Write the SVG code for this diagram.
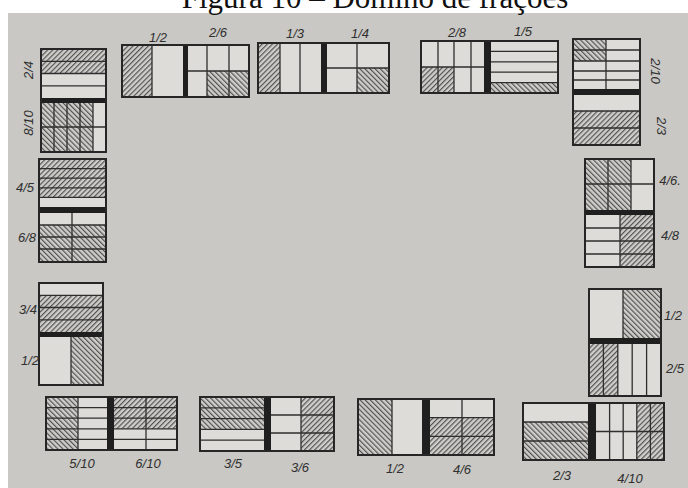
<svg xmlns="http://www.w3.org/2000/svg" width="688" height="488" viewBox="0 0 688 488">
<style>
.o{fill:none;stroke:#262626;stroke-width:2}
.l{stroke:#2e2e2e;stroke-width:1.3;fill:none}
.bar{fill:#1f1f1f}
.bk{fill:#dedcd8}
.hf{fill:url(#hf)}
.hb{fill:url(#hb)}
.t{font-family:"Liberation Sans",Arial,sans-serif;font-size:13px;font-style:italic;fill:#2f2f2f;text-anchor:middle;dominant-baseline:central}
.title{font-family:"Liberation Serif","Times New Roman",serif;font-size:31px;fill:#111;text-anchor:middle}
</style>
<defs>
<pattern id="hf" width="3.6" height="3.6" patternUnits="userSpaceOnUse" patternTransform="rotate(45)">
<rect width="3.6" height="3.6" fill="#cfcdc9"/><line x1="0.6" y1="0" x2="0.6" y2="3.6" stroke="#4a4a4a" stroke-width="1.1"/>
</pattern>
<pattern id="hb" width="3.6" height="3.6" patternUnits="userSpaceOnUse" patternTransform="rotate(-45)">
<rect width="3.6" height="3.6" fill="#cfcdc9"/><line x1="0.6" y1="0" x2="0.6" y2="3.6" stroke="#4a4a4a" stroke-width="1.1"/>
</pattern>
</defs>
<rect width="688" height="488" fill="#ffffff"/>
<rect x="8" y="13" width="680" height="475" fill="#c9c8c4"/>
<text class="title" x="375" y="8">Figura 10 – Dominó de frações</text>

<g id="domino-1-2_2-6">
<rect class="bk" x="122" y="45" width="127" height="52"/>
<rect class="hf" x="122" y="45" width="30" height="52"/>
<rect class="hb" x="207" y="71" width="42" height="26"/>
<path class="l" d="M152 45V97M188 71H249M207 45V97M229 45V97"/>
<rect class="bar" x="183" y="45" width="5" height="52"/>
<rect class="o" x="122" y="45" width="127" height="52"/>
<text class="t" x="158" y="37">1/2</text>
<text class="t" x="218" y="32">2/6</text>
</g>

<g id="domino-1-3_1-4">
<rect class="bk" x="258" y="43" width="131" height="50"/>
<rect class="hf" x="258" y="43" width="22" height="50"/>
<rect class="hb" x="357" y="68" width="32" height="25"/>
<path class="l" d="M280 43V93M300 43V93M327 68H389M357 43V93"/>
<rect class="bar" x="321" y="43" width="6" height="50"/>
<rect class="o" x="258" y="43" width="131" height="50"/>
<text class="t" x="295" y="33">1/3</text>
<text class="t" x="360" y="33">1/4</text>
</g>

<g id="domino-2-8_1-5">
<rect class="bk" x="421" y="41" width="137" height="52"/>
<rect class="hf" x="421" y="67" width="33" height="26"/>
<rect class="hb" x="491" y="82.6" width="67" height="10.4"/>
<path class="l" d="M438 41V93M454 41V93M471 41V93M421 67H484M491 51.4H558M491 61.8H558M491 72.2H558M491 82.6H558"/>
<rect class="bar" x="484" y="41" width="7" height="52"/>
<rect class="o" x="421" y="41" width="137" height="52"/>
<text class="t" x="457" y="32">2/8</text>
<text class="t" x="523" y="31">1/5</text>
</g>

<g id="domino-2-10_2-3">
<rect class="bk" x="573" y="39" width="67" height="106"/>
<rect class="hb" x="573" y="39" width="33" height="22"/>
<rect class="hf" x="573" y="111" width="67" height="34"/>
<path class="l" d="M606 39V89M573 50H640M573 61H640M573 71H640M573 80H640M573 111H640M573 128H640"/>
<rect class="bar" x="573" y="89" width="67" height="6"/>
<rect class="o" x="573" y="39" width="67" height="106"/>
<text class="t" transform="translate(655 71) rotate(90)">2/10</text>
<text class="t" transform="translate(661 126) rotate(90)">2/3</text>
</g>

<g id="domino-2-4_8-10">
<rect class="bk" x="41" y="49" width="65" height="103"/>
<rect class="hf" x="41" y="49" width="65" height="24.5"/>
<rect class="hb" x="41" y="103" width="52" height="49"/>
<path class="l" d="M41 61.3H106M41 73.5H106M41 85.8H106M54 103V152M67 103V152M80 103V152M93 103V152M41 127H106"/>
<rect class="bar" x="41" y="98" width="65" height="5"/>
<rect class="o" x="41" y="49" width="65" height="103"/>
<text class="t" transform="translate(28 70) rotate(-90)">2/4</text>
<text class="t" transform="translate(28 123) rotate(-90)">8/10</text>
</g>

<g id="domino-4-5_6-8">
<rect class="bk" x="39" y="159" width="67" height="103"/>
<rect class="hf" x="39" y="159" width="67" height="38.4"/>
<rect class="hb" x="39" y="225" width="67" height="37"/>
<path class="l" d="M39 168.6H106M39 178.2H106M39 187.8H106M39 197.4H106M72 213V262M39 225H106M39 237H106M39 249H106"/>
<rect class="bar" x="39" y="207" width="67" height="6"/>
<rect class="o" x="39" y="159" width="67" height="103"/>
<text class="t" x="25" y="187">4/5</text>
<text class="t" x="27" y="237">6/8</text>
</g>

<g id="domino-3-4_1-2">
<rect class="bk" x="39" y="283" width="64" height="102"/>
<rect class="hf" x="39" y="295.3" width="64" height="36.7"/>
<rect class="hb" x="71" y="337" width="32" height="48"/>
<path class="l" d="M39 295.3H103M39 307.5H103M39 319.8H103M71 337V385"/>
<rect class="bar" x="39" y="332" width="64" height="5"/>
<rect class="o" x="39" y="283" width="64" height="102"/>
<text class="t" x="28" y="309">3/4</text>
<text class="t" x="30" y="360">1/2</text>
</g>

<g id="domino-4-6_4-8">
<rect class="bk" x="585" y="159" width="69" height="108"/>
<rect class="hb" x="585" y="159" width="46" height="51"/>
<rect class="hf" x="620" y="215" width="34" height="52"/>
<path class="l" d="M608 159V210M631 159V210M585 184H654M620 215V267M585 228H654M585 241H654M585 254H654"/>
<rect class="bar" x="585" y="210" width="69" height="5"/>
<rect class="o" x="585" y="159" width="69" height="108"/>
<text class="t" x="670" y="180">4/6.</text>
<text class="t" x="670" y="235">4/8</text>
</g>

<g id="domino-1-2_2-5">
<rect class="bk" x="589" y="289" width="72" height="107"/>
<rect class="hb" x="623" y="289" width="38" height="49"/>
<rect class="hf" x="589" y="344" width="28.8" height="52"/>
<path class="l" d="M623 289V338M603.4 344V396M617.8 344V396M632.2 344V396M646.6 344V396"/>
<rect class="bar" x="589" y="338" width="72" height="6"/>
<rect class="o" x="589" y="289" width="72" height="107"/>
<text class="t" x="673" y="315">1/2</text>
<text class="t" x="675" y="368">2/5</text>
</g>

<g id="domino-5-10_6-10">
<rect class="bk" x="46" y="397" width="131" height="53"/>
<rect class="hb" x="46" y="397" width="32" height="53"/>
<rect class="hf" x="114" y="397" width="63" height="31.8"/>
<path class="l" d="M78 397V450M146 397V450M46 407.6H177M46 418.2H177M46 428.8H177M46 439.4H177"/>
<rect class="bar" x="107" y="397" width="7" height="53"/>
<rect class="o" x="46" y="397" width="131" height="53"/>
<text class="t" x="82" y="463">5/10</text>
<text class="t" x="148" y="463">6/10</text>
</g>

<g id="domino-3-5_3-6">
<rect class="bk" x="200" y="397" width="134" height="54"/>
<rect class="hb" x="200" y="397" width="64" height="32.4"/>
<rect class="hf" x="301" y="397" width="33" height="54"/>
<path class="l" d="M200 407.8H264M200 418.6H264M200 429.4H264M200 440.2H264M301 397V451M271 415H334M271 433H334"/>
<rect class="bar" x="264" y="397" width="7" height="54"/>
<rect class="o" x="200" y="397" width="134" height="54"/>
<text class="t" x="233" y="463">3/5</text>
<text class="t" x="300" y="467">3/6</text>
</g>

<g id="domino-1-2_4-6">
<rect class="bk" x="358" y="399" width="136" height="56"/>
<rect class="hb" x="358" y="399" width="34" height="56"/>
<rect class="hf" x="430" y="417.7" width="64" height="37.3"/>
<path class="l" d="M392 399V455M462 399V455M430 417.7H494M430 436.3H494"/>
<rect class="bar" x="422" y="399" width="8" height="56"/>
<rect class="o" x="358" y="399" width="136" height="56"/>
<text class="t" x="395" y="468">1/2</text>
<text class="t" x="462" y="469">4/6</text>
</g>

<g id="domino-2-3_4-10">
<rect class="bk" x="523" y="403" width="141" height="57"/>
<rect class="hb" x="523" y="422" width="65" height="38"/>
<rect class="hf" x="636.8" y="403" width="27.2" height="57"/>
<path class="l" d="M523 422H588M523 441H588M609.6 403V460M623.2 403V460M636.8 403V460M650.4 403V460M596 431.5H664"/>
<rect class="bar" x="588" y="403" width="8" height="57"/>
<rect class="o" x="523" y="403" width="141" height="57"/>
<text class="t" x="562" y="475">2/3</text>
<text class="t" x="630" y="478">4/10</text>
</g>
</svg>
